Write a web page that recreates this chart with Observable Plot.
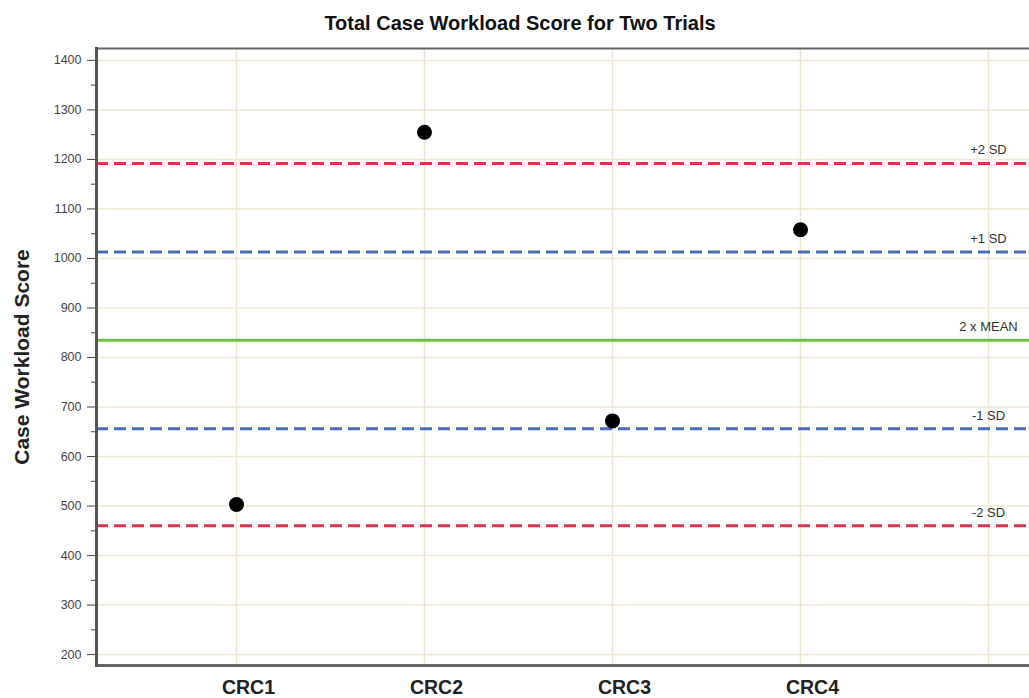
<!DOCTYPE html>
<html>
<head>
<meta charset="utf-8">
<script src="https://cdn.jsdelivr.net/npm/d3@7"></script>
<script src="https://cdn.jsdelivr.net/npm/@observablehq/plot@0.6"></script>
<style>
  html, body { margin: 0; padding: 0; background: #fff; }
  #wrap { position: relative; width: 1029px; height: 698px; overflow: hidden; font-family: "Liberation Sans", Arial, sans-serif; }
  #title { position: absolute; left: 0; top: 12px; width: 1040px; text-align: center; font-size: 20px; font-weight: bold; color: #111; line-height: 22px; }
  #chart { position: absolute; left: 0; top: 0; }
</style>
</head>
<body>
<div id="wrap">
  <div id="chart"></div>
  <div id="title">Total Case Workload Score for Two Trials</div>
</div>
<script>
const categories = ["CRC1", "CRC2", "CRC3", "CRC4", ""];
const scoreCategories = ["CRC1", "CRC2", "CRC3", "CRC4"];
const scores = [503, 1255, 672, 1058];
const refLabels = ["+2 SD", "+1 SD", "2 x MEAN", "-1 SD", "-2 SD"];
const refValues = [1192, 1013, 835, 656, 460];
const refColors = ["#d9354d", "#4a6cb3", "#6cc045", "#4a6cb3", "#d9354d"];
const refDashed = [true, true, false, true, true];
const yTicks = [200, 300, 400, 500, 600, 700, 800, 900, 1000, 1100, 1200, 1300, 1400];
const yMinorTicks = [250, 350, 450, 550, 650, 750, 850, 950, 1050, 1150, 1250, 1350];
const yLabel = "Case Workload Score";

const points = scoreCategories.map((c, i) => ({cat: c, score: scores[i]}));
const refs = refLabels.map((l, i) => ({label: l, value: refValues[i], color: refColors[i], dashed: refDashed[i]}));
const labelCat = categories[categories.length - 1];

const chart = Plot.plot({
  width: 1029,
  height: 698,
  marginTop: 48,
  marginBottom: 33,
  marginLeft: 96,
  marginRight: 0,
  style: {fontFamily: "'Liberation Sans', Arial, sans-serif", background: "transparent", overflow: "visible"},
  x: {type: "point", domain: categories, range: [236, 988], padding: 0},
  y: {domain: [178, 1424]},
  color: {type: "identity"},
  marks: [
    Plot.gridY(yTicks, {stroke: "#efe7d3", strokeOpacity: 1, strokeWidth: 1.5}),
    Plot.gridX(categories, {stroke: "#efe7d3", strokeOpacity: 1, strokeWidth: 1.5}),
    Plot.ruleY(refs.filter(d => d.dashed), {y: "value", stroke: "color", strokeWidth: 3, strokeDasharray: "12,6"}),
    Plot.ruleY(refs.filter(d => !d.dashed), {y: "value", stroke: "color", strokeWidth: 3}),
    Plot.text(refs, {x: () => labelCat, y: "value", text: "label", lineAnchor: "bottom", dy: -9, fontSize: 13, fill: "#333"}),
    Plot.dot(points, {x: "cat", y: "score", r: 7.5, fill: "#000", stroke: "none"}),
    Plot.axisY(yTicks, {tickSize: 9, tickPadding: 6, fontSize: 12.5, color: "#444", label: null, tickFormat: d => String(d)}),
    Plot.axisY(yMinorTicks, {tickSize: 5, text: null, color: "#444", label: null}),
    Plot.axisX({tickSize: 0, tickPadding: 15, fontSize: 19.5, fontWeight: "bold", dx: 12, color: "#222", label: null}),
    Plot.frame({anchor: "top", stroke: "#666", strokeWidth: 2}),
    Plot.frame({anchor: "bottom", stroke: "#666", strokeWidth: 3}),
    Plot.frame({anchor: "left", stroke: "#555", strokeWidth: 3}),
    Plot.text([yLabel], {frameAnchor: "left", textAnchor: "middle", rotate: -90, dx: -74, fontSize: 21, fontWeight: "bold", fill: "#222"})
  ]
});
document.getElementById("chart").appendChild(chart);
</script>
</body>
</html>
